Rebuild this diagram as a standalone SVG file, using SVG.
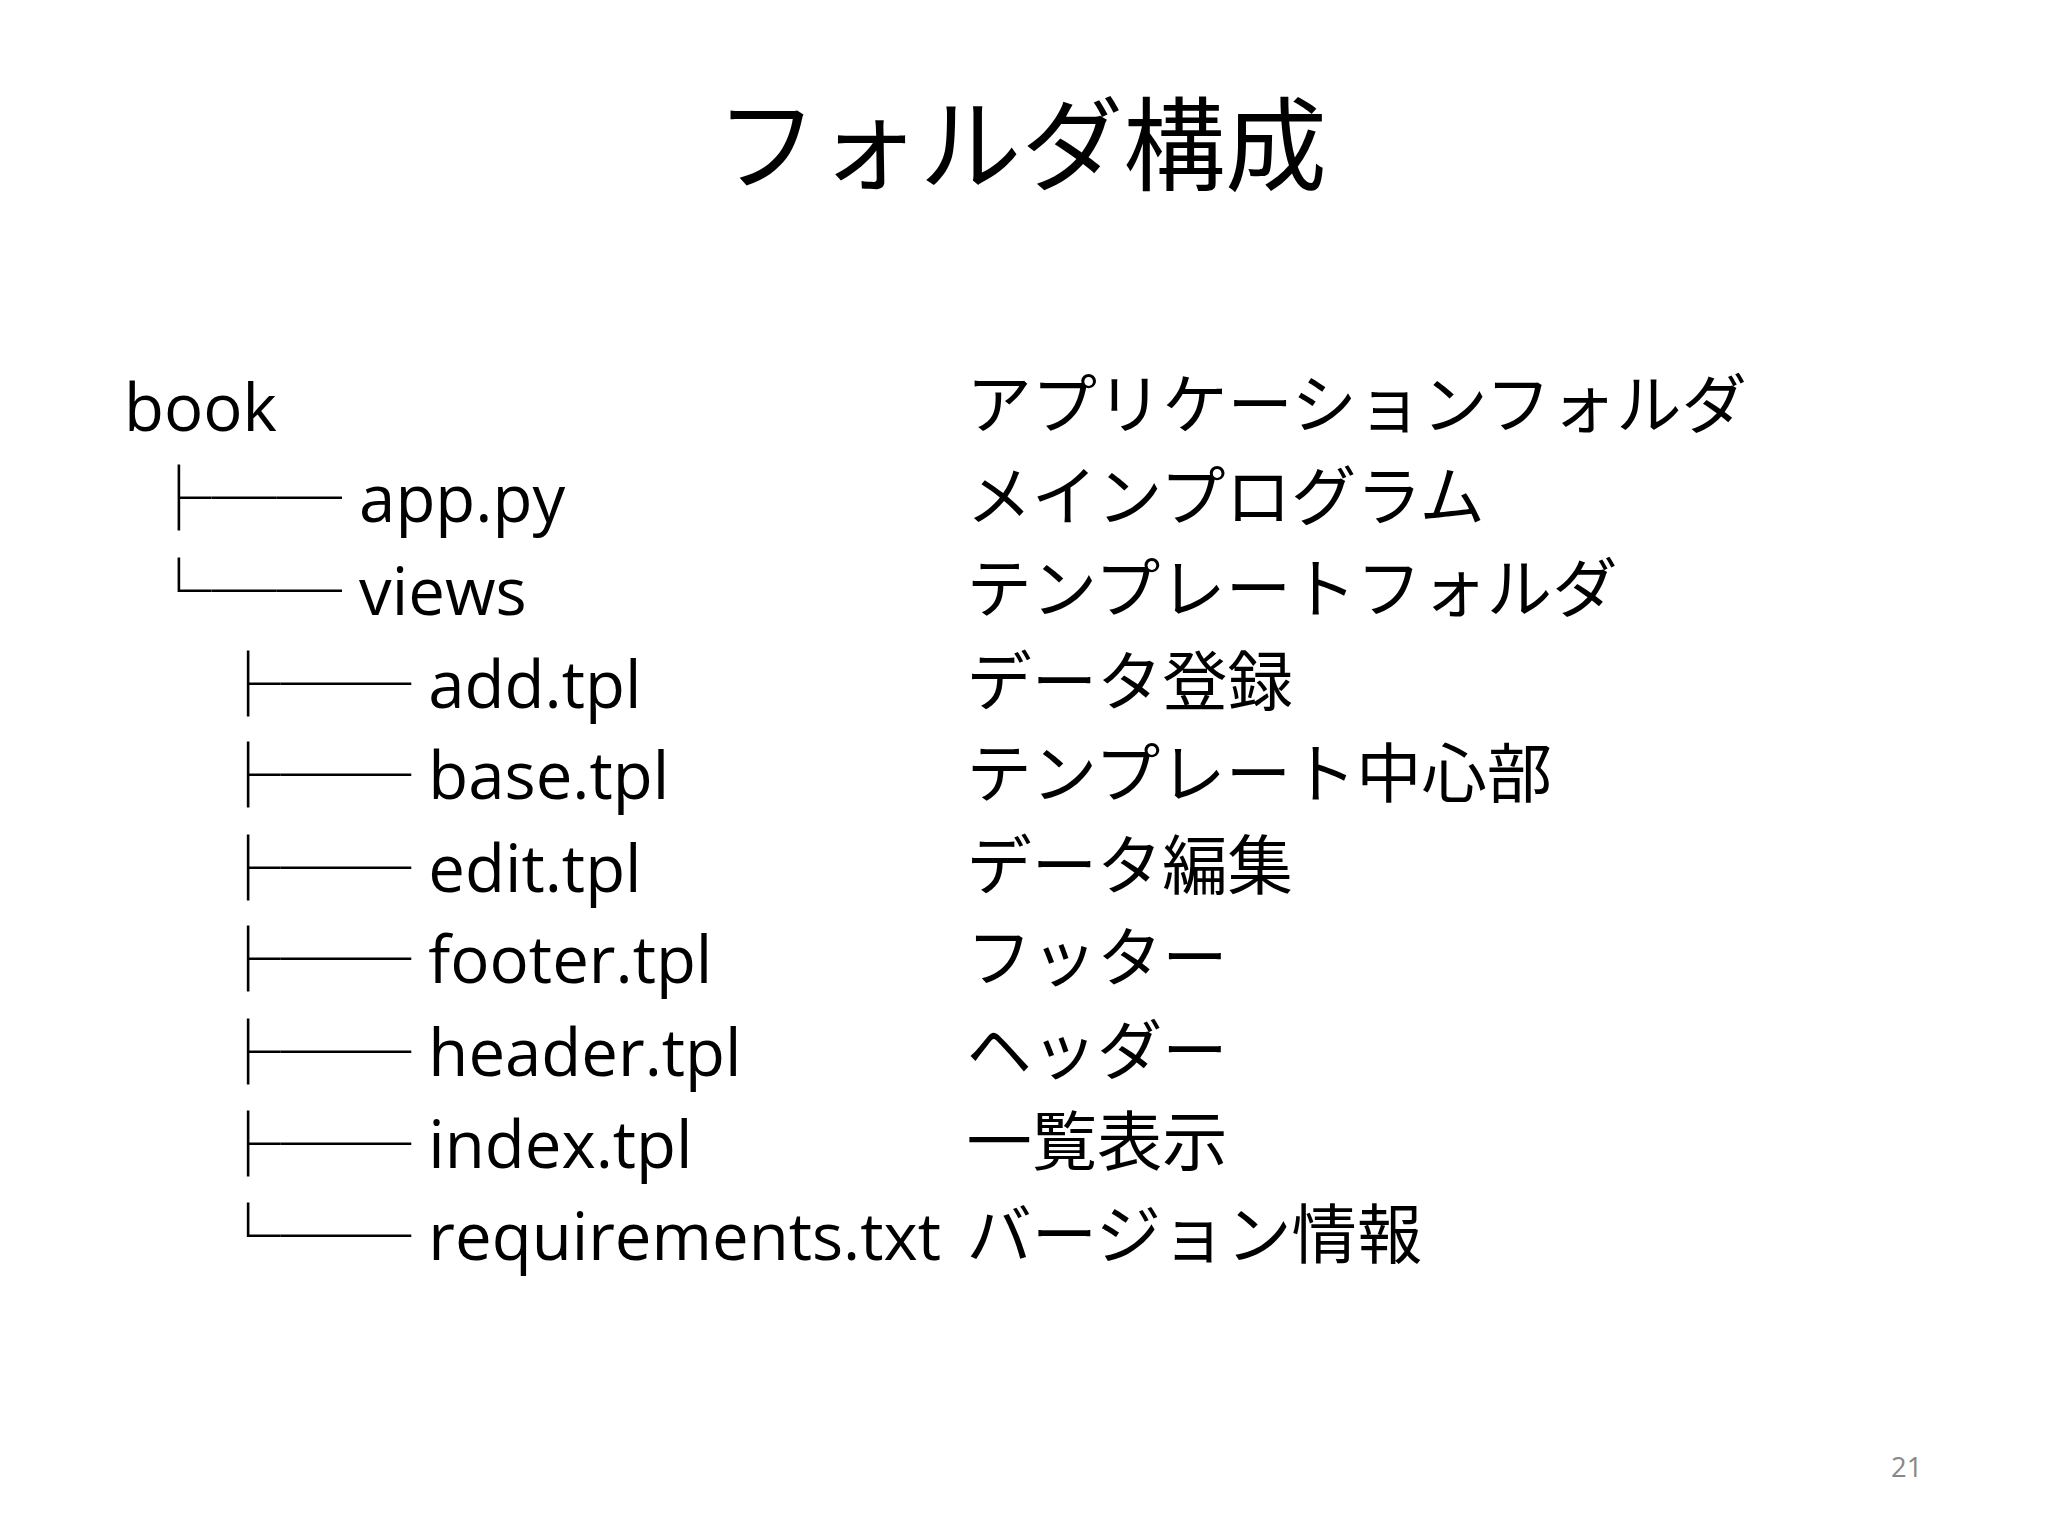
<svg xmlns="http://www.w3.org/2000/svg" width="2048" height="1536" viewBox="0 0 2048 1536">
<style>
.t{font-family:"Open Sans","Noto Sans CJK JP",sans-serif;font-size:50px;fill:#000}
.j{font-family:"Noto Sans CJK JP",sans-serif;font-size:50px;fill:#000}
</style>
<rect width="2048" height="1536" fill="#fff"/>
<g transform="scale(1.306)">
<g id="title"><text x="782" y="140" text-anchor="middle" style="font-family:'Noto Sans CJK JP',sans-serif;font-size:78px">フォルダ構成</text></g>
<g id="tree" class="t">
<text class="t" x="95" y="330">book</text>
<text class="t" x="112" y="400">├── app.py</text>
<text class="t" x="112" y="471">└── views</text>
<text class="t" x="165" y="542">├── add.tpl</text>
<text class="t" x="165" y="612">├── base.tpl</text>
<text class="t" x="165" y="683">├── edit.tpl</text>
<text class="t" x="165" y="753">├── footer.tpl</text>
<text class="t" x="165" y="824">├── header.tpl</text>
<text class="t" x="165" y="894">├── index.tpl</text>
<text class="t" x="165" y="965">└── requirements.txt</text>
</g>
<g id="desc">
<text class="j" x="740" y="328">アプリケーションフォルダ</text>
<text class="j" x="740" y="398">メインプログラム</text>
<text class="j" x="740" y="469">テンプレートフォルダ</text>
<text class="j" x="740" y="540">データ登録</text>
<text class="j" x="740" y="610">テンプレート中心部</text>
<text class="j" x="740" y="681">データ編集</text>
<text class="j" x="740" y="751">フッター</text>
<text class="j" x="740" y="822">ヘッダー</text>
<text class="j" x="740" y="892">一覧表示</text>
<text class="j" x="740" y="963">バージョン情報</text>
</g>
<text x="1472" y="1131" text-anchor="end" style="font-family:'Open Sans',sans-serif;font-size:21px;fill:#888">21</text>
</g>
</svg>
